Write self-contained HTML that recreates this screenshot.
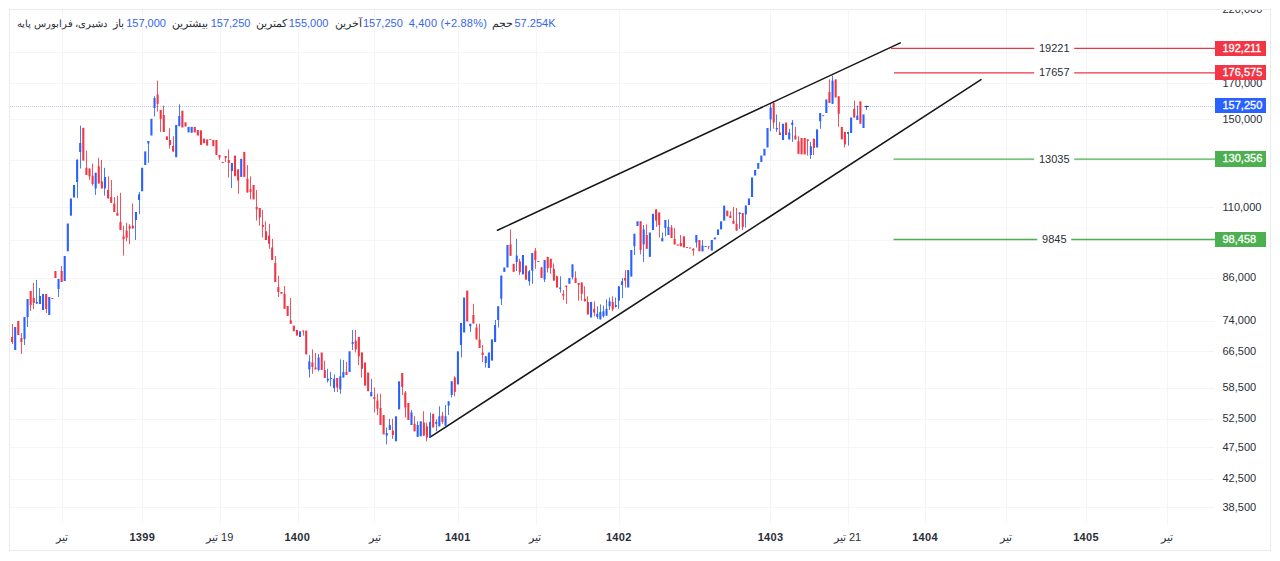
<!DOCTYPE html>
<html lang="fa"><head><meta charset="utf-8"><title>chart</title>
<style>
html,body{margin:0;padding:0;background:#fff;}
body{width:1280px;height:561px;position:relative;overflow:hidden;font-family:"Liberation Sans",sans-serif;color:#2a2e39;}
#frame{position:absolute;left:9px;top:9px;width:1262px;height:542px;border:1px solid #ebebec;box-sizing:border-box;}
svg{position:absolute;left:0;top:0;}
.t{position:absolute;white-space:nowrap;font-size:11px;line-height:13px;}
.b{color:#3565ee;}
.ax{left:1222.5px;}
.tag{position:absolute;left:1214.5px;width:51.5px;height:15.5px;color:#fff;font-size:11px;line-height:15.5px;box-sizing:border-box;padding-left:8px;white-space:nowrap;-webkit-text-stroke:0.3px #fff;}
.tm{position:absolute;top:530.5px;width:60px;text-align:center;font-size:11px;line-height:13px;white-space:nowrap;}
.tm b{font-weight:bold;letter-spacing:0.3px;}
.ll{position:absolute;font-size:11px;line-height:13px;background:#fff;padding:0 4.5px;white-space:nowrap;transform:translateX(-50%);}

</style></head><body>
<svg width="1280" height="561" viewBox="0 0 1280 561">
<g stroke="#f5f5f6" stroke-width="1" shape-rendering="crispEdges">
<line x1="62.5" y1="10" x2="62.5" y2="524"/>
<line x1="142.5" y1="10" x2="142.5" y2="524"/>
<line x1="220.5" y1="10" x2="220.5" y2="524"/>
<line x1="298.5" y1="10" x2="298.5" y2="524"/>
<line x1="374.5" y1="10" x2="374.5" y2="524"/>
<line x1="458.5" y1="10" x2="458.5" y2="524"/>
<line x1="536.5" y1="10" x2="536.5" y2="524"/>
<line x1="619.5" y1="10" x2="619.5" y2="524"/>
<line x1="770.5" y1="10" x2="770.5" y2="524"/>
<line x1="848.5" y1="10" x2="848.5" y2="524"/>
<line x1="925.5" y1="10" x2="925.5" y2="524"/>
<line x1="1006.5" y1="10" x2="1006.5" y2="524"/>
<line x1="1086.5" y1="10" x2="1086.5" y2="524"/>
<line x1="1167.5" y1="10" x2="1167.5" y2="524"/>
<line x1="10" y1="83.5" x2="1214" y2="83.5"/>
<line x1="10" y1="119.5" x2="1214" y2="119.5"/>
<line x1="10" y1="207.5" x2="1214" y2="207.5"/>
<line x1="10" y1="278.5" x2="1214" y2="278.5"/>
<line x1="10" y1="321.5" x2="1214" y2="321.5"/>
<line x1="10" y1="351.5" x2="1214" y2="351.5"/>
<line x1="10" y1="388.5" x2="1214" y2="388.5"/>
<line x1="10" y1="419.5" x2="1214" y2="419.5"/>
<line x1="10" y1="447.5" x2="1214" y2="447.5"/>
<line x1="10" y1="479.5" x2="1214" y2="479.5"/>
<line x1="10" y1="507.5" x2="1214" y2="507.5"/>
<line x1="10" y1="52.5" x2="1214" y2="52.5"/>
<line x1="10" y1="160.5" x2="1214" y2="160.5"/>
<line x1="10" y1="240.5" x2="1214" y2="240.5"/>
</g>
<line x1="10" y1="106.5" x2="1214" y2="106.5" stroke="#6f86c9" stroke-opacity="0.45" stroke-width="1" stroke-dasharray="1 1"/>
<g opacity="0.85"><rect x="12" y="324.0" width="1" height="20.0" fill="#f23645"/><rect x="21" y="333.0" width="1" height="21.0" fill="#f23645"/><rect x="24" y="317.0" width="1" height="28.0" fill="#2962ff"/><rect x="27" y="299.0" width="1" height="28.0" fill="#2962ff"/><rect x="30" y="291.0" width="1" height="20.0" fill="#f23645"/><rect x="33" y="283.0" width="1" height="26.0" fill="#f23645"/><rect x="36" y="280.0" width="1" height="24.0" fill="#2962ff"/><rect x="39" y="288.0" width="1" height="16.0" fill="#2962ff"/><rect x="46" y="294.0" width="1" height="19.0" fill="#f23645"/><rect x="58" y="279.0" width="1" height="18.0" fill="#2962ff"/><rect x="61" y="266.0" width="1" height="16.0" fill="#f23645"/><rect x="77" y="159.6" width="1" height="38.4" fill="#2962ff"/><rect x="80" y="125.7" width="1" height="42.8" fill="#2962ff"/><rect x="86" y="150.7" width="1" height="24.3" fill="#f23645"/><rect x="89" y="168.5" width="1" height="11.5" fill="#f23645"/><rect x="92" y="163.5" width="1" height="22.1" fill="#f23645"/><rect x="95" y="172.8" width="1" height="22.1" fill="#2962ff"/><rect x="98" y="157.8" width="1" height="25.7" fill="#f23645"/><rect x="101" y="160.0" width="1" height="28.6" fill="#f23645"/><rect x="104" y="167.8" width="1" height="27.8" fill="#2962ff"/><rect x="108" y="176.3" width="1" height="22.2" fill="#f23645"/><rect x="111" y="180.0" width="1" height="22.8" fill="#f23645"/><rect x="114" y="197.0" width="1" height="15.0" fill="#f23645"/><rect x="117" y="195.7" width="1" height="20.0" fill="#f23645"/><rect x="120" y="192.8" width="1" height="37.2" fill="#f23645"/><rect x="123" y="225.6" width="1" height="30.0" fill="#f23645"/><rect x="126" y="222.8" width="1" height="18.5" fill="#f23645"/><rect x="129" y="224.2" width="1" height="20.0" fill="#f23645"/><rect x="132" y="203.5" width="1" height="25.0" fill="#f23645"/><rect x="135" y="212.0" width="1" height="28.0" fill="#2962ff"/><rect x="139" y="192.0" width="1" height="22.2" fill="#2962ff"/><rect x="148" y="141.0" width="1" height="21.8" fill="#2962ff"/><rect x="154" y="96.2" width="1" height="20.2" fill="#2962ff"/><rect x="157" y="80.6" width="1" height="30.9" fill="#f23645"/><rect x="160" y="110.0" width="1" height="22.0" fill="#f23645"/><rect x="163" y="105.6" width="1" height="26.4" fill="#f23645"/><rect x="169" y="128.3" width="1" height="20.3" fill="#f23645"/><rect x="173" y="136.2" width="1" height="15.3" fill="#f23645"/><rect x="179" y="104.3" width="1" height="21.9" fill="#2962ff"/><rect x="219" y="155.0" width="1" height="5.0" fill="#f23645"/><rect x="225" y="156.0" width="1" height="6.0" fill="#f23645"/><rect x="228" y="149.4" width="1" height="28.1" fill="#f23645"/><rect x="231" y="163.0" width="1" height="25.0" fill="#2962ff"/><rect x="238" y="169.4" width="1" height="24.4" fill="#f23645"/><rect x="247" y="165.0" width="1" height="27.5" fill="#f23645"/><rect x="250" y="176.3" width="1" height="23.1" fill="#f23645"/><rect x="256" y="190.0" width="1" height="30.6" fill="#f23645"/><rect x="259" y="208.0" width="1" height="17.6" fill="#f23645"/><rect x="262" y="210.0" width="1" height="27.5" fill="#f23645"/><rect x="265" y="221.3" width="1" height="18.7" fill="#f23645"/><rect x="269" y="223.8" width="1" height="25.0" fill="#f23645"/><rect x="272" y="238.8" width="1" height="21.2" fill="#f23645"/><rect x="275" y="256.0" width="1" height="26.0" fill="#f23645"/><rect x="278" y="275.6" width="1" height="21.4" fill="#f23645"/><rect x="284" y="286.0" width="1" height="22.8" fill="#f23645"/><rect x="290" y="298.0" width="1" height="25.8" fill="#f23645"/><rect x="303" y="330.6" width="1" height="5.0" fill="#f23645"/><rect x="309" y="355.0" width="1" height="22.5" fill="#2962ff"/><rect x="312" y="349.4" width="1" height="24.4" fill="#f23645"/><rect x="315" y="353.0" width="1" height="16.4" fill="#f23645"/><rect x="318" y="353.8" width="1" height="17.5" fill="#2962ff"/><rect x="324" y="360.6" width="1" height="17.4" fill="#f23645"/><rect x="327" y="368.8" width="1" height="13.7" fill="#2962ff"/><rect x="330" y="372.0" width="1" height="14.3" fill="#2962ff"/><rect x="334" y="374.4" width="1" height="17.6" fill="#2962ff"/><rect x="337" y="378.0" width="1" height="14.0" fill="#f23645"/><rect x="340" y="359.4" width="1" height="34.4" fill="#2962ff"/><rect x="343" y="360.0" width="1" height="17.5" fill="#2962ff"/><rect x="346" y="362.0" width="1" height="13.0" fill="#f23645"/><rect x="352" y="330.0" width="1" height="20.0" fill="#2962ff"/><rect x="355" y="330.0" width="1" height="22.5" fill="#f23645"/><rect x="358" y="337.0" width="1" height="28.0" fill="#f23645"/><rect x="361" y="352.5" width="1" height="25.0" fill="#f23645"/><rect x="371" y="378.8" width="1" height="17.5" fill="#2962ff"/><rect x="374" y="387.5" width="1" height="25.0" fill="#f23645"/><rect x="377" y="393.8" width="1" height="21.2" fill="#f23645"/><rect x="380" y="393.8" width="1" height="31.2" fill="#f23645"/><rect x="386" y="427.5" width="1" height="16.9" fill="#2962ff"/><rect x="389" y="418.8" width="1" height="11.2" fill="#2962ff"/><rect x="392" y="418.8" width="1" height="20.0" fill="#f23645"/><rect x="402" y="373.0" width="1" height="22.0" fill="#f23645"/><rect x="405" y="391.0" width="1" height="26.5" fill="#f23645"/><rect x="411" y="410.0" width="1" height="15.0" fill="#2962ff"/><rect x="414" y="416.3" width="1" height="15.0" fill="#f23645"/><rect x="417" y="421.3" width="1" height="15.6" fill="#2962ff"/><rect x="423" y="411.3" width="1" height="24.3" fill="#f23645"/><rect x="426" y="422.5" width="1" height="18.8" fill="#f23645"/><rect x="430" y="412.5" width="1" height="25.5" fill="#2962ff"/><rect x="436" y="419.4" width="1" height="11.9" fill="#2962ff"/><rect x="439" y="406.3" width="1" height="20.0" fill="#2962ff"/><rect x="442" y="411.9" width="1" height="11.9" fill="#f23645"/><rect x="445" y="405.0" width="1" height="20.6" fill="#2962ff"/><rect x="448" y="401.3" width="1" height="13.7" fill="#2962ff"/><rect x="451" y="381.3" width="1" height="16.2" fill="#2962ff"/><rect x="454" y="376.3" width="1" height="20.0" fill="#f23645"/><rect x="461" y="323.0" width="1" height="34.5" fill="#2962ff"/><rect x="470" y="323.8" width="1" height="8.2" fill="#2962ff"/><rect x="473" y="303.8" width="1" height="19.7" fill="#f23645"/><rect x="476" y="323.8" width="1" height="15.6" fill="#f23645"/><rect x="479" y="323.8" width="1" height="24.2" fill="#f23645"/><rect x="482" y="345.0" width="1" height="17.0" fill="#f23645"/><rect x="485" y="356.3" width="1" height="11.2" fill="#2962ff"/><rect x="495" y="320.0" width="1" height="22.0" fill="#2962ff"/><rect x="498" y="306.3" width="1" height="21.2" fill="#2962ff"/><rect x="501" y="275.6" width="1" height="29.4" fill="#2962ff"/><rect x="510" y="229.4" width="1" height="26.4" fill="#f23645"/><rect x="516" y="238.8" width="1" height="32.2" fill="#2962ff"/><rect x="519" y="258.8" width="1" height="16.2" fill="#f23645"/><rect x="529" y="270.0" width="1" height="15.6" fill="#2962ff"/><rect x="532" y="253.0" width="1" height="30.8" fill="#2962ff"/><rect x="535" y="248.0" width="1" height="20.8" fill="#f23645"/><rect x="541" y="266.9" width="1" height="11.1" fill="#f23645"/><rect x="544" y="260.0" width="1" height="21.9" fill="#2962ff"/><rect x="547" y="256.9" width="1" height="15.6" fill="#f23645"/><rect x="550" y="258.8" width="1" height="15.0" fill="#f23645"/><rect x="553" y="263.4" width="1" height="17.2" fill="#f23645"/><rect x="556" y="275.6" width="1" height="11.9" fill="#f23645"/><rect x="560" y="276.3" width="1" height="16.2" fill="#2962ff"/><rect x="563" y="290.0" width="1" height="10.0" fill="#f23645"/><rect x="566" y="285.6" width="1" height="18.2" fill="#f23645"/><rect x="572" y="264.4" width="1" height="15.0" fill="#2962ff"/><rect x="575" y="271.3" width="1" height="11.7" fill="#f23645"/><rect x="578" y="283.0" width="1" height="17.6" fill="#f23645"/><rect x="581" y="282.5" width="1" height="18.1" fill="#f23645"/><rect x="584" y="286.3" width="1" height="15.0" fill="#f23645"/><rect x="587" y="296.3" width="1" height="18.1" fill="#f23645"/><rect x="594" y="301.3" width="1" height="15.0" fill="#f23645"/><rect x="597" y="306.3" width="1" height="12.5" fill="#2962ff"/><rect x="600" y="304.4" width="1" height="15.0" fill="#2962ff"/><rect x="603" y="305.6" width="1" height="11.9" fill="#2962ff"/><rect x="606" y="299.4" width="1" height="16.2" fill="#2962ff"/><rect x="609" y="297.5" width="1" height="12.5" fill="#2962ff"/><rect x="612" y="296.3" width="1" height="15.0" fill="#f23645"/><rect x="615" y="297.5" width="1" height="10.0" fill="#2962ff"/><rect x="618" y="286.3" width="1" height="22.5" fill="#2962ff"/><rect x="622" y="278.0" width="1" height="20.0" fill="#2962ff"/><rect x="625" y="270.0" width="1" height="17.5" fill="#f23645"/><rect x="634" y="233.8" width="1" height="21.2" fill="#2962ff"/><rect x="640" y="221.3" width="1" height="33.1" fill="#f23645"/><rect x="643" y="225.0" width="1" height="36.9" fill="#2962ff"/><rect x="646" y="224.4" width="1" height="24.4" fill="#f23645"/><rect x="656" y="209.4" width="1" height="17.5" fill="#f23645"/><rect x="659" y="212.5" width="1" height="25.0" fill="#f23645"/><rect x="662" y="232.5" width="1" height="8.8" fill="#2962ff"/><rect x="665" y="220.0" width="1" height="16.3" fill="#2962ff"/><rect x="668" y="219.4" width="1" height="15.6" fill="#2962ff"/><rect x="671" y="225.0" width="1" height="13.0" fill="#f23645"/><rect x="674" y="228.0" width="1" height="16.4" fill="#f23645"/><rect x="680" y="235.0" width="1" height="11.3" fill="#f23645"/><rect x="693" y="248.1" width="1" height="7.5" fill="#f23645"/><rect x="696" y="235.0" width="1" height="12.5" fill="#2962ff"/><rect x="702" y="240.0" width="1" height="11.3" fill="#2962ff"/><rect x="708" y="246.3" width="1" height="3.1" fill="#f23645"/><rect x="730" y="211.3" width="1" height="6.7" fill="#f23645"/><rect x="733" y="206.9" width="1" height="16.9" fill="#f23645"/><rect x="736" y="208.0" width="1" height="22.6" fill="#f23645"/><rect x="739" y="212.5" width="1" height="16.3" fill="#2962ff"/><rect x="742" y="213.0" width="1" height="17.0" fill="#f23645"/><rect x="745" y="205.6" width="1" height="21.9" fill="#2962ff"/><rect x="770" y="103.8" width="1" height="27.5" fill="#2962ff"/><rect x="773" y="101.3" width="1" height="27.5" fill="#f23645"/><rect x="776" y="114.4" width="1" height="17.5" fill="#2962ff"/><rect x="779" y="121.9" width="1" height="13.1" fill="#f23645"/><rect x="789" y="128.8" width="1" height="10.6" fill="#2962ff"/><rect x="792" y="120.0" width="1" height="21.9" fill="#2962ff"/><rect x="795" y="126.9" width="1" height="12.5" fill="#f23645"/><rect x="798" y="136.3" width="1" height="17.5" fill="#f23645"/><rect x="807" y="139.4" width="1" height="16.2" fill="#f23645"/><rect x="810" y="141.9" width="1" height="16.9" fill="#2962ff"/><rect x="813" y="138.8" width="1" height="16.2" fill="#f23645"/><rect x="820" y="113.0" width="1" height="15.8" fill="#2962ff"/><rect x="829" y="79.4" width="1" height="23.6" fill="#f23645"/><rect x="832" y="75.6" width="1" height="28.2" fill="#2962ff"/><rect x="838" y="96.3" width="1" height="30.6" fill="#f23645"/><rect x="844" y="131.9" width="1" height="15.6" fill="#f23645"/><rect x="848" y="131.9" width="1" height="13.7" fill="#2962ff"/><rect x="854" y="100.6" width="1" height="16.9" fill="#f23645"/><rect x="857" y="105.6" width="1" height="14.4" fill="#2962ff"/><rect x="866" y="105.6" width="1" height="4.4" fill="#2962ff"/></g>
<g><rect x="11.05" y="337.0" width="2.1" height="5.0" fill="#f23645"/><rect x="14.15" y="327.0" width="2.1" height="23.0" fill="#2962ff"/><rect x="17.24" y="321.0" width="2.1" height="14.0" fill="#f23645"/><rect x="20.34" y="338.0" width="2.1" height="4.0" fill="#f23645"/><rect x="23.43" y="317.0" width="2.1" height="22.0" fill="#2962ff"/><rect x="26.53" y="299.0" width="2.1" height="18.0" fill="#2962ff"/><rect x="29.63" y="291.0" width="2.1" height="14.0" fill="#f23645"/><rect x="32.72" y="298.0" width="2.1" height="5.0" fill="#f23645"/><rect x="35.82" y="302.0" width="2.1" height="1.5" fill="#2962ff"/><rect x="38.91" y="296.0" width="2.1" height="8.0" fill="#2962ff"/><rect x="42.01" y="294.0" width="2.1" height="16.0" fill="#2962ff"/><rect x="45.11" y="294.0" width="2.1" height="15.0" fill="#f23645"/><rect x="48.20" y="297.0" width="2.1" height="18.0" fill="#2962ff"/><rect x="51.30" y="298.0" width="2.1" height="1.0" fill="#f23645"/><rect x="54.39" y="271.0" width="2.1" height="7.0" fill="#f23645"/><rect x="57.49" y="279.0" width="2.1" height="10.0" fill="#2962ff"/><rect x="60.59" y="271.0" width="2.1" height="11.0" fill="#f23645"/><rect x="63.68" y="256.0" width="2.1" height="25.0" fill="#2962ff"/><rect x="66.78" y="223.5" width="2.1" height="27.8" fill="#2962ff"/><rect x="69.87" y="198.5" width="2.1" height="17.2" fill="#2962ff"/><rect x="72.97" y="185.0" width="2.1" height="12.5" fill="#2962ff"/><rect x="76.07" y="159.6" width="2.1" height="22.4" fill="#2962ff"/><rect x="79.16" y="143.0" width="2.1" height="9.0" fill="#2962ff"/><rect x="82.26" y="127.8" width="2.1" height="32.8" fill="#f23645"/><rect x="85.35" y="167.8" width="2.1" height="7.2" fill="#f23645"/><rect x="88.45" y="168.5" width="2.1" height="7.8" fill="#f23645"/><rect x="91.55" y="175.6" width="2.1" height="8.4" fill="#f23645"/><rect x="94.64" y="172.8" width="2.1" height="15.6" fill="#2962ff"/><rect x="97.74" y="166.3" width="2.1" height="17.2" fill="#f23645"/><rect x="100.83" y="181.3" width="2.1" height="7.1" fill="#f23645"/><rect x="103.93" y="177.0" width="2.1" height="11.4" fill="#2962ff"/><rect x="107.03" y="189.9" width="2.1" height="8.5" fill="#f23645"/><rect x="110.12" y="197.0" width="2.1" height="5.8" fill="#f23645"/><rect x="113.22" y="203.5" width="2.1" height="8.5" fill="#f23645"/><rect x="116.31" y="212.8" width="2.1" height="2.9" fill="#f23645"/><rect x="119.41" y="222.0" width="2.1" height="8.0" fill="#f23645"/><rect x="122.51" y="236.3" width="2.1" height="2.9" fill="#f23645"/><rect x="125.60" y="230.6" width="2.1" height="7.2" fill="#f23645"/><rect x="128.70" y="226.4" width="2.1" height="2.1" fill="#f23645"/><rect x="131.79" y="225.6" width="2.1" height="2.9" fill="#f23645"/><rect x="134.89" y="212.0" width="2.1" height="8.0" fill="#2962ff"/><rect x="137.99" y="194.3" width="2.1" height="5.7" fill="#2962ff"/><rect x="141.08" y="167.8" width="2.1" height="23.5" fill="#2962ff"/><rect x="144.18" y="151.4" width="2.1" height="13.6" fill="#2962ff"/><rect x="147.27" y="141.0" width="2.1" height="2.5" fill="#2962ff"/><rect x="150.37" y="118.8" width="2.1" height="16.7" fill="#2962ff"/><rect x="153.47" y="98.0" width="2.1" height="10.0" fill="#2962ff"/><rect x="156.56" y="94.5" width="2.1" height="9.4" fill="#f23645"/><rect x="159.66" y="110.0" width="2.1" height="8.8" fill="#f23645"/><rect x="162.75" y="115.0" width="2.1" height="17.0" fill="#f23645"/><rect x="165.85" y="136.3" width="2.1" height="3.7" fill="#f23645"/><rect x="168.95" y="140.0" width="2.1" height="5.0" fill="#f23645"/><rect x="172.04" y="146.0" width="2.1" height="5.5" fill="#f23645"/><rect x="175.14" y="125.0" width="2.1" height="32.2" fill="#2962ff"/><rect x="178.23" y="116.0" width="2.1" height="10.2" fill="#2962ff"/><rect x="181.33" y="110.7" width="2.1" height="16.8" fill="#f23645"/><rect x="184.43" y="122.3" width="2.1" height="4.2" fill="#f23645"/><rect x="187.52" y="126.9" width="2.1" height="5.5" fill="#2962ff"/><rect x="190.62" y="126.9" width="2.1" height="5.9" fill="#2962ff"/><rect x="193.71" y="126.9" width="2.1" height="5.5" fill="#f23645"/><rect x="196.81" y="130.0" width="2.1" height="5.5" fill="#f23645"/><rect x="199.91" y="130.4" width="2.1" height="14.5" fill="#f23645"/><rect x="203.00" y="138.6" width="2.1" height="4.6" fill="#f23645"/><rect x="206.10" y="139.4" width="2.1" height="6.2" fill="#f23645"/><rect x="209.19" y="139.0" width="2.1" height="0.9" fill="#f23645"/><rect x="212.29" y="140.0" width="2.1" height="6.2" fill="#f23645"/><rect x="215.39" y="140.0" width="2.1" height="15.0" fill="#f23645"/><rect x="218.48" y="155.0" width="2.1" height="2.5" fill="#f23645"/><rect x="221.58" y="162.0" width="2.1" height="1.0" fill="#f23645"/><rect x="224.67" y="156.0" width="2.1" height="2.0" fill="#f23645"/><rect x="227.77" y="160.0" width="2.1" height="3.0" fill="#f23645"/><rect x="230.87" y="163.0" width="2.1" height="8.0" fill="#2962ff"/><rect x="233.96" y="155.6" width="2.1" height="20.7" fill="#f23645"/><rect x="237.06" y="169.4" width="2.1" height="11.2" fill="#f23645"/><rect x="240.15" y="158.8" width="2.1" height="18.1" fill="#2962ff"/><rect x="243.25" y="151.9" width="2.1" height="25.0" fill="#f23645"/><rect x="246.35" y="178.8" width="2.1" height="13.7" fill="#f23645"/><rect x="249.44" y="189.4" width="2.1" height="2.5" fill="#f23645"/><rect x="252.54" y="185.0" width="2.1" height="14.4" fill="#f23645"/><rect x="255.63" y="207.0" width="2.1" height="2.4" fill="#f23645"/><rect x="258.73" y="208.0" width="2.1" height="9.5" fill="#f23645"/><rect x="261.83" y="225.0" width="2.1" height="2.0" fill="#f23645"/><rect x="264.92" y="231.3" width="2.1" height="8.7" fill="#f23645"/><rect x="268.02" y="235.6" width="2.1" height="8.2" fill="#f23645"/><rect x="271.11" y="247.5" width="2.1" height="12.5" fill="#f23645"/><rect x="274.21" y="263.0" width="2.1" height="19.0" fill="#f23645"/><rect x="277.31" y="287.0" width="2.1" height="5.0" fill="#f23645"/><rect x="280.40" y="292.0" width="2.1" height="1.8" fill="#f23645"/><rect x="283.50" y="293.8" width="2.1" height="15.0" fill="#f23645"/><rect x="286.59" y="306.0" width="2.1" height="10.0" fill="#f23645"/><rect x="289.69" y="320.3" width="2.1" height="3.5" fill="#f23645"/><rect x="292.79" y="325.6" width="2.1" height="5.7" fill="#f23645"/><rect x="295.88" y="330.0" width="2.1" height="5.6" fill="#f23645"/><rect x="298.98" y="331.3" width="2.1" height="5.7" fill="#2962ff"/><rect x="302.07" y="330.6" width="2.1" height="0.9" fill="#f23645"/><rect x="305.17" y="330.6" width="2.1" height="23.8" fill="#f23645"/><rect x="308.27" y="361.3" width="2.1" height="8.1" fill="#2962ff"/><rect x="311.36" y="362.5" width="2.1" height="4.5" fill="#f23645"/><rect x="314.46" y="367.5" width="2.1" height="1.9" fill="#f23645"/><rect x="317.55" y="357.5" width="2.1" height="12.5" fill="#2962ff"/><rect x="320.65" y="352.5" width="2.1" height="17.5" fill="#f23645"/><rect x="323.75" y="370.0" width="2.1" height="8.0" fill="#f23645"/><rect x="326.84" y="378.8" width="2.1" height="1.8" fill="#2962ff"/><rect x="329.94" y="378.0" width="2.1" height="1.0" fill="#2962ff"/><rect x="333.03" y="378.8" width="2.1" height="9.2" fill="#2962ff"/><rect x="336.13" y="378.0" width="2.1" height="9.5" fill="#f23645"/><rect x="339.23" y="376.3" width="2.1" height="13.1" fill="#2962ff"/><rect x="342.32" y="372.0" width="2.1" height="5.5" fill="#2962ff"/><rect x="345.42" y="372.0" width="2.1" height="3.0" fill="#f23645"/><rect x="348.51" y="351.3" width="2.1" height="20.7" fill="#2962ff"/><rect x="351.61" y="342.0" width="2.1" height="1.8" fill="#2962ff"/><rect x="354.71" y="340.6" width="2.1" height="8.8" fill="#f23645"/><rect x="357.80" y="337.0" width="2.1" height="19.3" fill="#f23645"/><rect x="360.90" y="352.5" width="2.1" height="16.3" fill="#f23645"/><rect x="363.99" y="362.5" width="2.1" height="23.1" fill="#f23645"/><rect x="367.09" y="372.5" width="2.1" height="18.8" fill="#f23645"/><rect x="370.19" y="392.0" width="2.1" height="4.3" fill="#2962ff"/><rect x="373.28" y="397.0" width="2.1" height="1.8" fill="#f23645"/><rect x="376.38" y="400.6" width="2.1" height="8.2" fill="#f23645"/><rect x="379.47" y="408.0" width="2.1" height="17.0" fill="#f23645"/><rect x="382.57" y="415.0" width="2.1" height="19.4" fill="#f23645"/><rect x="385.67" y="433.0" width="2.1" height="2.6" fill="#2962ff"/><rect x="388.76" y="425.0" width="2.1" height="5.0" fill="#2962ff"/><rect x="391.86" y="430.6" width="2.1" height="4.4" fill="#f23645"/><rect x="394.95" y="416.3" width="2.1" height="25.0" fill="#2962ff"/><rect x="398.05" y="381.3" width="2.1" height="28.1" fill="#2962ff"/><rect x="401.15" y="373.0" width="2.1" height="14.0" fill="#f23645"/><rect x="404.24" y="392.5" width="2.1" height="15.0" fill="#f23645"/><rect x="407.34" y="403.0" width="2.1" height="17.0" fill="#f23645"/><rect x="410.43" y="412.5" width="2.1" height="12.5" fill="#2962ff"/><rect x="413.53" y="423.8" width="2.1" height="7.5" fill="#f23645"/><rect x="416.63" y="425.0" width="2.1" height="11.9" fill="#2962ff"/><rect x="419.72" y="421.3" width="2.1" height="15.0" fill="#2962ff"/><rect x="422.82" y="422.5" width="2.1" height="13.1" fill="#f23645"/><rect x="425.91" y="426.3" width="2.1" height="11.2" fill="#f23645"/><rect x="429.01" y="421.9" width="2.1" height="16.1" fill="#2962ff"/><rect x="432.11" y="413.8" width="2.1" height="13.7" fill="#f23645"/><rect x="435.20" y="421.9" width="2.1" height="1.9" fill="#2962ff"/><rect x="438.30" y="416.3" width="2.1" height="10.0" fill="#2962ff"/><rect x="441.39" y="415.6" width="2.1" height="6.3" fill="#f23645"/><rect x="444.49" y="416.3" width="2.1" height="9.3" fill="#2962ff"/><rect x="447.59" y="401.3" width="2.1" height="4.3" fill="#2962ff"/><rect x="450.68" y="381.3" width="2.1" height="13.7" fill="#2962ff"/><rect x="453.78" y="377.5" width="2.1" height="14.4" fill="#f23645"/><rect x="456.87" y="351.3" width="2.1" height="33.1" fill="#2962ff"/><rect x="459.97" y="323.0" width="2.1" height="22.0" fill="#2962ff"/><rect x="463.07" y="297.5" width="2.1" height="35.0" fill="#2962ff"/><rect x="466.16" y="290.6" width="2.1" height="30.9" fill="#f23645"/><rect x="469.26" y="323.8" width="2.1" height="2.5" fill="#2962ff"/><rect x="472.35" y="315.0" width="2.1" height="8.5" fill="#f23645"/><rect x="475.45" y="327.5" width="2.1" height="11.9" fill="#f23645"/><rect x="478.55" y="339.4" width="2.1" height="8.6" fill="#f23645"/><rect x="481.64" y="352.5" width="2.1" height="2.5" fill="#f23645"/><rect x="484.74" y="356.3" width="2.1" height="6.7" fill="#2962ff"/><rect x="487.83" y="352.5" width="2.1" height="15.5" fill="#2962ff"/><rect x="490.93" y="339.4" width="2.1" height="21.2" fill="#2962ff"/><rect x="494.03" y="325.0" width="2.1" height="17.0" fill="#2962ff"/><rect x="497.12" y="306.3" width="2.1" height="13.7" fill="#2962ff"/><rect x="500.22" y="275.6" width="2.1" height="23.2" fill="#2962ff"/><rect x="503.31" y="267.5" width="2.1" height="4.4" fill="#2962ff"/><rect x="506.41" y="245.0" width="2.1" height="22.5" fill="#2962ff"/><rect x="509.51" y="244.4" width="2.1" height="11.4" fill="#f23645"/><rect x="512.60" y="263.8" width="2.1" height="8.1" fill="#f23645"/><rect x="515.70" y="255.6" width="2.1" height="6.3" fill="#2962ff"/><rect x="518.79" y="261.3" width="2.1" height="10.9" fill="#f23645"/><rect x="521.89" y="255.0" width="2.1" height="19.4" fill="#2962ff"/><rect x="524.99" y="265.6" width="2.1" height="14.1" fill="#f23645"/><rect x="528.08" y="271.3" width="2.1" height="10.0" fill="#2962ff"/><rect x="531.18" y="253.0" width="2.1" height="17.6" fill="#2962ff"/><rect x="534.27" y="250.6" width="2.1" height="9.4" fill="#f23645"/><rect x="537.37" y="261.0" width="2.1" height="1.0" fill="#f23645"/><rect x="540.47" y="267.5" width="2.1" height="10.5" fill="#f23645"/><rect x="543.56" y="260.0" width="2.1" height="19.4" fill="#2962ff"/><rect x="546.66" y="256.9" width="2.1" height="11.5" fill="#f23645"/><rect x="549.75" y="258.8" width="2.1" height="9.0" fill="#f23645"/><rect x="552.85" y="268.8" width="2.1" height="11.8" fill="#f23645"/><rect x="555.95" y="276.3" width="2.1" height="11.2" fill="#f23645"/><rect x="559.04" y="287.5" width="2.1" height="1.3" fill="#2962ff"/><rect x="562.14" y="293.8" width="2.1" height="1.8" fill="#f23645"/><rect x="565.23" y="285.6" width="2.1" height="1.4" fill="#f23645"/><rect x="568.33" y="278.0" width="2.1" height="5.8" fill="#2962ff"/><rect x="571.43" y="264.4" width="2.1" height="12.8" fill="#2962ff"/><rect x="574.52" y="278.0" width="2.1" height="5.0" fill="#f23645"/><rect x="577.62" y="283.0" width="2.1" height="2.0" fill="#f23645"/><rect x="580.71" y="282.5" width="2.1" height="11.3" fill="#f23645"/><rect x="583.81" y="298.8" width="2.1" height="2.5" fill="#f23645"/><rect x="586.91" y="301.9" width="2.1" height="12.5" fill="#f23645"/><rect x="590.00" y="301.9" width="2.1" height="15.6" fill="#2962ff"/><rect x="593.10" y="308.8" width="2.1" height="3.7" fill="#f23645"/><rect x="596.19" y="313.8" width="2.1" height="3.1" fill="#2962ff"/><rect x="599.29" y="311.9" width="2.1" height="7.5" fill="#2962ff"/><rect x="602.39" y="311.3" width="2.1" height="5.0" fill="#2962ff"/><rect x="605.48" y="308.8" width="2.1" height="6.8" fill="#2962ff"/><rect x="608.58" y="301.3" width="2.1" height="5.0" fill="#2962ff"/><rect x="611.67" y="301.9" width="2.1" height="7.5" fill="#f23645"/><rect x="614.77" y="305.0" width="2.1" height="1.9" fill="#2962ff"/><rect x="617.87" y="286.3" width="2.1" height="14.3" fill="#2962ff"/><rect x="620.96" y="281.3" width="2.1" height="3.7" fill="#2962ff"/><rect x="624.06" y="278.0" width="2.1" height="2.6" fill="#f23645"/><rect x="627.15" y="270.0" width="2.1" height="17.5" fill="#2962ff"/><rect x="630.25" y="250.0" width="2.1" height="26.6" fill="#2962ff"/><rect x="633.35" y="233.8" width="2.1" height="12.5" fill="#2962ff"/><rect x="636.44" y="221.3" width="2.1" height="4.7" fill="#2962ff"/><rect x="639.54" y="221.3" width="2.1" height="28.7" fill="#f23645"/><rect x="642.63" y="229.4" width="2.1" height="15.0" fill="#2962ff"/><rect x="645.73" y="235.0" width="2.1" height="13.8" fill="#f23645"/><rect x="648.83" y="232.5" width="2.1" height="24.4" fill="#2962ff"/><rect x="651.92" y="213.8" width="2.1" height="16.2" fill="#2962ff"/><rect x="655.02" y="209.4" width="2.1" height="11.2" fill="#f23645"/><rect x="658.11" y="212.5" width="2.1" height="12.5" fill="#f23645"/><rect x="661.21" y="238.0" width="2.1" height="3.3" fill="#2962ff"/><rect x="664.31" y="220.0" width="2.1" height="8.0" fill="#2962ff"/><rect x="667.40" y="226.9" width="2.1" height="8.1" fill="#2962ff"/><rect x="670.50" y="227.5" width="2.1" height="10.5" fill="#f23645"/><rect x="673.59" y="238.8" width="2.1" height="5.6" fill="#f23645"/><rect x="676.69" y="244.4" width="2.1" height="1.2" fill="#f23645"/><rect x="679.79" y="243.0" width="2.1" height="3.3" fill="#f23645"/><rect x="682.88" y="236.3" width="2.1" height="11.2" fill="#f23645"/><rect x="685.98" y="247.0" width="2.1" height="0.9" fill="#f23645"/><rect x="689.07" y="247.5" width="2.1" height="1.0" fill="#f23645"/><rect x="692.17" y="248.8" width="2.1" height="1.8" fill="#f23645"/><rect x="695.27" y="235.0" width="2.1" height="7.5" fill="#2962ff"/><rect x="698.36" y="240.0" width="2.1" height="11.3" fill="#f23645"/><rect x="701.46" y="245.6" width="2.1" height="5.7" fill="#2962ff"/><rect x="704.55" y="246.0" width="2.1" height="0.9" fill="#2962ff"/><rect x="707.65" y="246.3" width="2.1" height="0.9" fill="#f23645"/><rect x="710.75" y="240.0" width="2.1" height="10.6" fill="#2962ff"/><rect x="713.84" y="237.5" width="2.1" height="1.9" fill="#2962ff"/><rect x="716.94" y="229.4" width="2.1" height="5.6" fill="#2962ff"/><rect x="720.03" y="221.3" width="2.1" height="8.1" fill="#2962ff"/><rect x="723.13" y="205.6" width="2.1" height="15.0" fill="#2962ff"/><rect x="726.23" y="210.6" width="2.1" height="5.7" fill="#f23645"/><rect x="729.32" y="215.6" width="2.1" height="2.4" fill="#f23645"/><rect x="732.42" y="220.6" width="2.1" height="3.2" fill="#f23645"/><rect x="735.51" y="223.8" width="2.1" height="6.8" fill="#f23645"/><rect x="738.61" y="212.5" width="2.1" height="1.5" fill="#2962ff"/><rect x="741.71" y="213.0" width="2.1" height="13.9" fill="#f23645"/><rect x="744.80" y="205.6" width="2.1" height="8.8" fill="#2962ff"/><rect x="747.90" y="198.5" width="2.1" height="6.5" fill="#2962ff"/><rect x="750.99" y="177.5" width="2.1" height="19.5" fill="#2962ff"/><rect x="754.09" y="170.0" width="2.1" height="5.6" fill="#2962ff"/><rect x="757.19" y="163.0" width="2.1" height="5.8" fill="#2962ff"/><rect x="760.28" y="155.6" width="2.1" height="6.3" fill="#2962ff"/><rect x="763.38" y="148.8" width="2.1" height="6.8" fill="#2962ff"/><rect x="766.47" y="128.0" width="2.1" height="19.5" fill="#2962ff"/><rect x="769.57" y="107.5" width="2.1" height="11.9" fill="#2962ff"/><rect x="772.67" y="103.0" width="2.1" height="19.5" fill="#f23645"/><rect x="775.76" y="128.0" width="2.1" height="1.4" fill="#2962ff"/><rect x="778.86" y="132.5" width="2.1" height="2.5" fill="#f23645"/><rect x="781.95" y="123.8" width="2.1" height="16.2" fill="#2962ff"/><rect x="785.05" y="122.5" width="2.1" height="12.5" fill="#f23645"/><rect x="788.15" y="132.5" width="2.1" height="6.9" fill="#2962ff"/><rect x="791.24" y="122.5" width="2.1" height="2.5" fill="#2962ff"/><rect x="794.34" y="135.5" width="2.1" height="3.9" fill="#f23645"/><rect x="797.43" y="141.3" width="2.1" height="12.5" fill="#f23645"/><rect x="800.53" y="138.0" width="2.1" height="16.4" fill="#f23645"/><rect x="803.63" y="138.0" width="2.1" height="16.4" fill="#f23645"/><rect x="806.72" y="139.4" width="2.1" height="1.6" fill="#f23645"/><rect x="809.82" y="146.3" width="2.1" height="8.7" fill="#2962ff"/><rect x="812.91" y="138.8" width="2.1" height="9.2" fill="#f23645"/><rect x="816.01" y="129.4" width="2.1" height="18.1" fill="#2962ff"/><rect x="819.11" y="113.0" width="2.1" height="8.3" fill="#2962ff"/><rect x="822.20" y="115.2" width="2.1" height="0.9" fill="#2962ff"/><rect x="825.30" y="99.4" width="2.1" height="13.6" fill="#2962ff"/><rect x="828.39" y="91.9" width="2.1" height="11.1" fill="#f23645"/><rect x="831.49" y="80.6" width="2.1" height="23.2" fill="#2962ff"/><rect x="834.59" y="79.4" width="2.1" height="18.1" fill="#f23645"/><rect x="837.68" y="96.3" width="2.1" height="17.5" fill="#f23645"/><rect x="840.78" y="126.9" width="2.1" height="12.5" fill="#f23645"/><rect x="843.87" y="131.9" width="2.1" height="12.5" fill="#f23645"/><rect x="846.97" y="131.9" width="2.1" height="1.9" fill="#2962ff"/><rect x="850.07" y="117.5" width="2.1" height="15.5" fill="#2962ff"/><rect x="853.16" y="108.8" width="2.1" height="8.7" fill="#f23645"/><rect x="856.26" y="115.6" width="2.1" height="4.4" fill="#2962ff"/><rect x="859.35" y="101.3" width="2.1" height="22.5" fill="#f23645"/><rect x="862.45" y="114.4" width="2.1" height="13.6" fill="#2962ff"/><rect x="865.55" y="106.2" width="2.1" height="0.9" fill="#2962ff"/></g>
<rect x="864.6" y="106" width="4.2" height="1" fill="#1f3fa0"/>
<line x1="891.0" y1="48.4" x2="1215.0" y2="48.4" stroke="#ea3648" stroke-width="1.4"/>
<line x1="894.0" y1="72.9" x2="1215.0" y2="72.9" stroke="#ea3648" stroke-width="1.4"/>
<line x1="893.5" y1="159.1" x2="1215.0" y2="159.1" stroke="#4caf50" stroke-width="1.4"/>
<line x1="893.5" y1="239.5" x2="1215.0" y2="239.5" stroke="#4caf50" stroke-width="1.4"/>
<g stroke="#161616" stroke-width="1.55" stroke-linecap="round">
<line x1="497.5" y1="230.3" x2="900.3" y2="42.9"/>
<line x1="431.3" y1="436.3" x2="981" y2="79.6"/>
</g>
</svg>
<div class="ll" style="left:1054.3px;top:41.8px">19221</div>
<div class="ll" style="left:1054.3px;top:66.3px">17657</div>
<div class="ll" style="left:1054.3px;top:152.5px">13035</div>
<div class="ll" style="left:1054.3px;top:232.9px">9845</div>
<div class="t ax" style="top:2.7px">220,000</div>
<div class="t ax" style="top:76.8px">170,000</div>
<div class="t ax" style="top:112.5px">150,000</div>
<div class="t ax" style="top:201.0px">110,000</div>
<div class="t ax" style="top:271.2px">86,000</div>
<div class="t ax" style="top:314.1px">74,000</div>
<div class="t ax" style="top:344.6px">66,500</div>
<div class="t ax" style="top:381.1px">58,500</div>
<div class="t ax" style="top:412.0px">52,500</div>
<div class="t ax" style="top:440.6px">47,500</div>
<div class="t ax" style="top:472.3px">42,500</div>
<div class="t ax" style="top:500.5px">38,500</div>
<div class="tag" style="top:40.7px;background:#f23645">192,211</div>
<div class="tag" style="top:64.9px;background:#f23645">176,575</div>
<div class="tag" style="top:97.9px;background:#2962ff">157,250</div>
<div class="tag" style="top:151.4px;background:#4caf50">130,356</div>
<div class="tag" style="top:231.5px;background:#4caf50">98,458</div>
<div class="tm" dir="rtl" style="left:32.0px">تیر</div>
<div class="tm" dir="rtl" style="left:112.3px"><b>1399</b></div>
<div class="tm" dir="rtl" style="left:189.7px">19 تیر</div>
<div class="tm" dir="rtl" style="left:267.3px"><b>1400</b></div>
<div class="tm" dir="rtl" style="left:344.6px">تیر</div>
<div class="tm" dir="rtl" style="left:427.8px"><b>1401</b></div>
<div class="tm" dir="rtl" style="left:505.4px">تیر</div>
<div class="tm" dir="rtl" style="left:588.8px"><b>1402</b></div>
<div class="tm" dir="rtl" style="left:740.5px"><b>1403</b></div>
<div class="tm" dir="rtl" style="left:817.5px">21 تیر</div>
<div class="tm" dir="rtl" style="left:895.0px"><b>1404</b></div>
<div class="tm" dir="rtl" style="left:975.6px">تیر</div>
<div class="tm" dir="rtl" style="left:1056.0px"><b>1405</b></div>
<div class="tm" dir="rtl" style="left:1136.9px">تیر</div>
<div class="t" dir="rtl" style="left:17.2px;top:16.5px;width:90.3px;text-align:center;letter-spacing:0"><span style="font-size:10.4px">دشیری، فرابورس پایه</span></div>
<div class="t" dir="rtl" style="left:115.0px;top:16.5px;width:9.3px;text-align:center;letter-spacing:0">باز</div>
<div class="t b" style="left:126.2px;top:16.5px">157,000</div>
<div class="t" dir="rtl" style="left:171.7px;top:16.5px;width:37.0px;text-align:center;letter-spacing:0">بیشترین</div>
<div class="t b" style="left:210.7px;top:16.5px">157,250</div>
<div class="t" dir="rtl" style="left:256.2px;top:16.5px;width:31.3px;text-align:center;letter-spacing:0">کمترین</div>
<div class="t b" style="left:288.7px;top:16.5px">155,000</div>
<div class="t" dir="rtl" style="left:335.0px;top:16.5px;width:27.0px;text-align:center;letter-spacing:0">آخرین</div>
<div class="t b" style="left:363.0px;top:16.5px">157,250</div>
<div class="t b" style="left:408.7px;top:16.5px"><span style="letter-spacing:0.2px">4,400 (+2.88%)</span></div>
<div class="t" dir="rtl" style="left:491.2px;top:16.5px;width:22.5px;text-align:center;letter-spacing:0">حجم</div>
<div class="t b" style="left:514.5px;top:16.5px">57.254K</div>
<div style="position:absolute;left:0;top:0;width:1280px;height:10px;background:#fff"></div>
<div id="frame"></div>
</body></html>
